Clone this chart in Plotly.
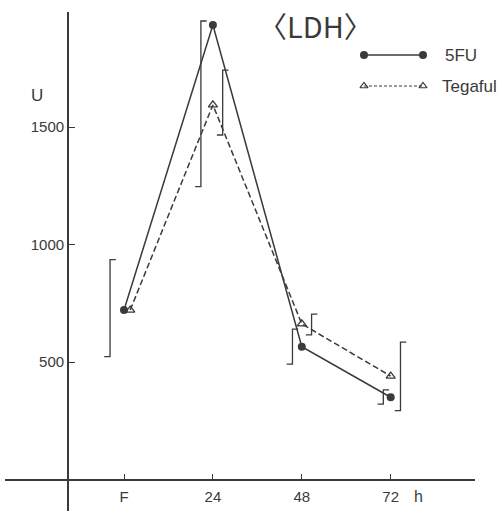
import plotly.graph_objects as go

# ---- data ----
time_labels = ["F", "24", "48", "72"]
time_pos = [0, 1, 2, 3]
fu_mean = [721, 1934, 565, 350]
teg_mean = [721, 1594, 662, 440]
# SD brackets (low / high ends)
fu_low = [523, 1246, 491, 321]
fu_high = [936, 1951, 640, 381]
teg_low = [None, 1466, 615, 293]
teg_high = [None, 1742, 704, 585]
y_ticks = [500, 1000, 1500]

# ---- style ----
INK = "#3a3a3a"
FONT = "Liberation Sans, Arial, sans-serif"
W, H = 503, 511
PX_X = 88.9        # px per time step
PX_Y = 0.2350      # px per unit
X0_PX, Y0_PX = 124, 479.5
fu_dx = [-0.157, -0.135, -0.105, -0.083]
teg_dx = [0.0, 0.11, 0.11, 0.11]
teg_shift = [0.07, 0.0, 0.0, 0.0]
tick_w = 0.065

fig = go.Figure()

# main series
fig.add_trace(go.Scatter(
    x=time_pos, y=fu_mean, mode="lines+markers",
    line=dict(color=INK, width=1.5),
    marker=dict(symbol="circle", size=8, color=INK),
    showlegend=False))
fig.add_trace(go.Scatter(
    x=[p + s for p, s in zip(time_pos, teg_shift)], y=teg_mean, mode="lines+markers",
    line=dict(color=INK, width=1.5, dash="6px,3px"),
    marker=dict(symbol="triangle-up-open", size=8, color=INK, line=dict(width=1.3)),
    showlegend=False))

# SD brackets
def add_brackets(low, high, dx):
    xs, ys = [], []
    for p, lo, hi, d in zip(time_pos, low, high, dx):
        if lo is None:
            continue
        xb = p + d
        xs += [xb - tick_w, xb, xb, xb + tick_w, None]
        ys += [lo, lo, hi, hi, None]
    fig.add_trace(go.Scatter(x=xs, y=ys, mode="lines",
                             line=dict(color=INK, width=1.3),
                             showlegend=False, hoverinfo="skip"))

add_brackets(fu_low, fu_high, fu_dx)
add_brackets(teg_low, teg_high, teg_dx)

# legend samples on a small overlay axis
fig.add_trace(go.Scatter(x=[0, 1], y=[1, 1], mode="lines+markers", xaxis="x2", yaxis="y2",
                         line=dict(color=INK, width=1.5), cliponaxis=False,
                         marker=dict(symbol="circle", size=8, color=INK), showlegend=False))
fig.add_trace(go.Scatter(x=[0, 1], y=[0, 0], mode="lines+markers", xaxis="x2", yaxis="y2",
                         line=dict(color=INK, width=1.2, dash="3px,2px"), cliponaxis=False,
                         marker=dict(symbol="triangle-up-open", size=7, color=INK,
                                     line=dict(width=1.2)), showlegend=False))

# axis geometry
x_left, x_right = 5, 475
y_top, y_bot = 12, 511
xr0 = (x_left - X0_PX) / PX_X
xr1 = (x_right - X0_PX) / PX_X
yr0 = -(y_bot - Y0_PX) / PX_Y
yr1 = (Y0_PX - y_top) / PX_Y

fig.update_layout(
    width=W, height=H,
    margin=dict(l=0, r=0, t=0, b=0, autoexpand=False),
    paper_bgcolor="white", plot_bgcolor="white",
    font=dict(family=FONT, color=INK, size=14),
    xaxis=dict(domain=[x_left / W, x_right / W], range=[xr0, xr1],
               anchor="free", position=(H - Y0_PX) / H, automargin=False,
               showline=True, linecolor=INK, linewidth=1.8,
               showgrid=False, zeroline=False,
               tickmode="array", tickvals=time_pos, ticktext=time_labels,
               ticks="inside", ticklen=5, tickcolor=INK, tickwidth=1.2,
               tickfont=dict(size=15, color=INK), ticklabelstandoff=4),
    yaxis=dict(domain=[0, (H - y_top) / H], range=[yr0, yr1],
               anchor="free", position=68 / W, automargin=False,
               showline=True, linecolor=INK, linewidth=1.8,
               showgrid=False, zeroline=False,
               tickmode="array", tickvals=y_ticks,
               ticks="inside", ticklen=6, tickcolor=INK, tickwidth=1.2,
               tickfont=dict(size=15, color=INK), ticklabelstandoff=0),
    xaxis2=dict(domain=[364 / W, 423 / W], range=[0, 1], visible=False, fixedrange=True),
    yaxis2=dict(domain=[1 - 89.7 / H, 1 - 51.3 / H], range=[-0.12, 1.12], visible=False,
                anchor="x2", fixedrange=True),
)

fig.add_annotation(text="〈LDH〉", x=315 / W, y=1 - 25 / H, xref="paper", yref="paper",
                   showarrow=False, font=dict(family="Noto Sans CJK JP", size=29, color=INK),
                   xanchor="center", yanchor="middle")
fig.add_annotation(text="5FU", x=443 / W, y=1 - 55 / H, xref="paper", yref="paper",
                   showarrow=False, font=dict(size=17, color=INK),
                   xanchor="left", yanchor="middle")
fig.add_annotation(text="Tegaful", x=440 / W, y=1 - 86 / H, xref="paper", yref="paper",
                   showarrow=False, font=dict(size=17, color=INK),
                   xanchor="left", yanchor="middle")
fig.add_annotation(text="U", x=37 / W, y=1 - 95 / H, xref="paper", yref="paper",
                   showarrow=False, font=dict(size=17, color=INK),
                   xanchor="center", yanchor="middle")
fig.add_annotation(text="h", x=418 / W, y=1 - 496 / H, xref="paper", yref="paper",
                   showarrow=False, font=dict(size=16, color=INK),
                   xanchor="center", yanchor="middle")

fig.write_html("out.html",
               config={"displayModeBar": False},
               post_script="document.body.style.margin='0px';document.body.style.overflow='hidden';")
